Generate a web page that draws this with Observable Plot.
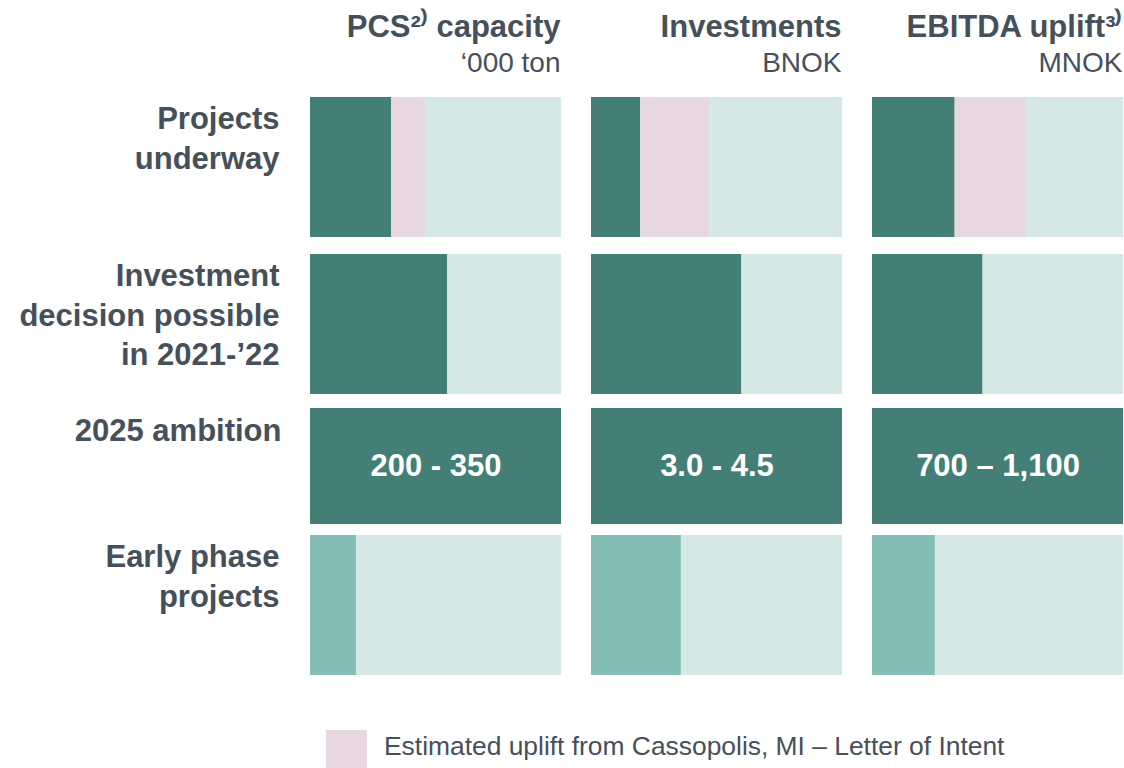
<!DOCTYPE html>
<html><head><meta charset="utf-8">
<script src="https://cdn.jsdelivr.net/npm/d3@7"></script>
<script src="https://cdn.jsdelivr.net/npm/@observablehq/plot@0.6"></script>
<style>
body{margin:0;background:#fff;font-family:"Liberation Sans",Arial,sans-serif;}
#legend{position:relative;height:78px;width:1124px;}
#legend .sw{position:absolute;left:326px;top:40px;width:41px;height:40px;background:#E6D7E1;}
#legend .lb{position:absolute;left:384px;top:43px;font-size:26.4px;line-height:26px;color:#46505A;white-space:nowrap;}
</style></head><body>
<div id="chart"></div>
<div id="legend"><div class="sw"></div><div class="lb"></div></div>
<script>
// ---- data ----
const metrics = ["PCS capacity", "Investments", "EBITDA uplift"];
const metricTitles = ["PCS²⁾ capacity", "Investments", "EBITDA uplift³⁾"];
const metricUnits = ["‘000 ton", "BNOK", "MNOK"];
const scaleMax = [350, 4.5, 1100];           // full bar width = upper 2025 ambition
const rows = ["Projects underway", "Investment decision possible in 2021-’22", "2025 ambition", "Early phase projects"];
const rowLabels = ["Projects\nunderway", "Investment\ndecision possible\nin 2021-’22", "2025 ambition", "Early phase\nprojects"];
const underway = [113, 0.88, 362];
const cassopolisUplift = [47, 1.23, 311];
const decisionPossible = [191, 2.69, 483];
const earlyPhase = [64, 1.61, 275];
const ambitionText = ["200 - 350", "3.0 - 4.5", "700 – 1,100"];
const legendLabel = "Estimated uplift from Cassopolis, MI – Letter of Intent";

const kinds = ["dark", "uplift", "early"];
const kindColors = ["#437F77", "#E6D7E1", "#85BEB7"];
const textColor = "#46505A";
const font = "Liberation Sans, Arial, sans-serif";
const rowShift = [0, 11, 0, 0];  // layout nudge (px) of each row band

// ---- tables ----
const bg = [], bars = [], amb = [], headers = [];
metrics.forEach((m, i) => {
  const M = scaleMax[i];
  [0, 1, 3].forEach(r => bg.push({fx: m, row: rows[r], x1: 0, x2: 1}));
  bars.push({fx: m, row: rows[0], x1: 0, x2: underway[i] / M, kind: "dark"});
  bars.push({fx: m, row: rows[0], x1: underway[i] / M, x2: (underway[i] + cassopolisUplift[i]) / M, kind: "uplift"});
  bars.push({fx: m, row: rows[1], x1: 0, x2: decisionPossible[i] / M, kind: "dark"});
  bars.push({fx: m, row: rows[3], x1: 0, x2: earlyPhase[i] / M, kind: "early"});
  amb.push({fx: m, row: rows[2], x1: 0, x2: 1, xm: 0.5, text: ambitionText[i]});
  headers.push({fx: m, title: metricTitles[i], unit: metricUnits[i]});
});
const labels = rows.map((r, i) => ({fx: metrics[0], row: r, label: rowLabels[i]}));

const rowMarks = [];
rows.forEach((r, ri) => {
  if (ri === 2) return;
  const s = rowShift[ri];
  rowMarks.push(
    Plot.barX(bg.filter(d => d.row === r), {fx: "fx", y: "row", x1: "x1", x2: "x2", fill: "#D5E8E6", dy: s}),
    Plot.barX(bars.filter(d => d.row === r), {fx: "fx", y: "row", x1: "x1", x2: "x2", fill: "kind", dy: s}),
    Plot.text(labels.filter(d => d.row === r), {fx: "fx", y: "row", text: "label", frameAnchor: "left", textAnchor: "end", dx: -31,
      lineAnchor: "top", lineHeight: 1.27, dy: -66 + s, fontSize: 31, fontWeight: "bold", fill: textColor, fontFamily: font})
  );
});

const chart = Plot.plot({
  width: 1124,
  height: 690,
  marginLeft: 310,
  marginRight: 0,
  marginTop: 96,
  marginBottom: 15,
  style: {fontFamily: font, background: "#fff"},
  fx: {domain: metrics, paddingInner: 0.105, paddingOuter: 0, axis: null},
  y: {domain: rows, paddingInner: 0.0433, paddingOuter: 0, axis: null},
  x: {domain: [0, 1], axis: null},
  color: {domain: kinds, range: kindColors},
  marks: [
    ...rowMarks,
    Plot.barX(amb, {fx: "fx", y: "row", x1: "x1", x2: "x2", fill: kindColors[0], insetTop: 19, insetBottom: 5}),
    Plot.text(amb, {fx: "fx", y: "row", x: "xm", text: "text", fill: "#fff", fontSize: 31, fontWeight: "bold", dy: 7, fontFamily: font}),
    Plot.text(labels.filter(d => d.row === rows[2]), {fx: "fx", y: "row", text: "label", frameAnchor: "left", textAnchor: "end", dx: -29,
      lineAnchor: "bottom", dy: -19, fontSize: 31, fontWeight: "bold", fill: textColor, fontFamily: font}),
    Plot.text(headers, {fx: "fx", text: "title", frameAnchor: "top-right", textAnchor: "end", lineAnchor: "bottom",
      dy: -60, dx: -1, fontSize: 31, fontWeight: "bold", fill: textColor, fontFamily: font}),
    Plot.text(headers, {fx: "fx", text: "unit", frameAnchor: "top-right", textAnchor: "end", lineAnchor: "bottom",
      dy: -25, dx: -1, fontSize: 28, fill: textColor, fontFamily: font})
  ]
});
document.getElementById("chart").appendChild(chart);
document.querySelector("#legend .lb").textContent = legendLabel;
</script>
</body></html>
